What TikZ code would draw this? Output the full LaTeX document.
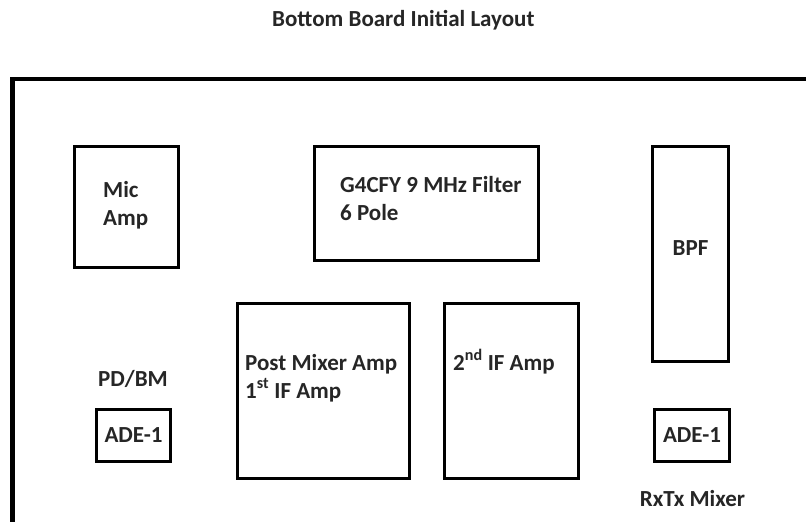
\documentclass[tikz,border=0pt]{standalone}
\usepackage{fontspec}
\setmainfont{Carlito}[BoldFont={* Bold}]
\begin{document}
\begin{tikzpicture}[x=1pt,y=-1pt,
  box/.style={draw=black, line width=3pt, fill=white, inner sep=0pt, anchor=center},
  lbl/.style={inner sep=0pt, font=\fontsize{23}{28}\selectfont\bfseries, text=black!85, align=left},
  ttl/.style={inner sep=0pt, font=\fontsize{23}{28}\selectfont\bfseries, text=black!85}]
\useasboundingbox (0,0) rectangle (806,522);
\clip (0,0) rectangle (806,522);
\fill[white] (0,0) rectangle (806,522);
% title
\node[ttl, anchor=base west] (title) at (272,27) {Bottom Board Initial Layout};
% board outline
\draw[line width=4.5pt] (12.5,79) rectangle (830,524);
% boxes
\node[box, minimum width=104pt, minimum height=121pt] (mic) at (126.5,207) {};
\node[box, minimum width=224pt, minimum height=114pt] (filt) at (426.5,203.5) {};
\node[box, minimum width=76pt, minimum height=215pt] (bpf) at (690.5,254) {};
\node[box, minimum width=172pt, minimum height=175pt] (post) at (323.5,391) {};
\node[box, minimum width=134pt, minimum height=175pt] (ifamp) at (511.5,391) {};
\node[box, minimum width=74pt, minimum height=52pt, font=\fontsize{23}{28}\selectfont\bfseries, text=black!85] (adeL) at (133.5,435.5) {ADE-1};
\node[box, minimum width=75pt, minimum height=52pt, font=\fontsize{23}{28}\selectfont\bfseries, text=black!85] (adeR) at (692,435.5) {ADE-1};
% labels (base anchor of a two-line node is the last line's baseline)
\node[lbl, anchor=base west] (micT) at (103,225) {Mic\\Amp};
\node[lbl, anchor=base west] (filtT) at (340,220) {G4CFY 9 MHz Filter\\6 Pole};
\node[lbl, anchor=base] (bpfT) at (690.5,255) {BPF};
\node[lbl, anchor=base west] (postT) at (245,398) {Post Mixer Amp\\1\textsuperscript{st} IF Amp};
\node[lbl, anchor=base west] (ifT) at (453,370) {2\textsuperscript{nd} IF Amp};
\node[lbl, anchor=base] (pdT) at (133,386) {PD/BM};
\node[lbl, anchor=base] (rxT) at (692.5,506) {RxTx Mixer};
\end{tikzpicture}
\end{document}
